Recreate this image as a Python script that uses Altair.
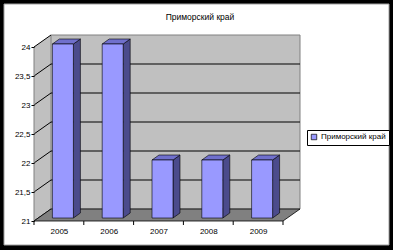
import altair as alt
import pandas as pd

title_text = "Приморский край"
series_name = "Приморский край"
years = ["2005", "2006", "2007", "2008", "2009"]
values = [24, 24, 22, 22, 22]
y_ticks = [21, 21.5, 22, 22.5, 23, 23.5, 24]

# ---- geometry (pixels) ----
X0, X1 = 34, 283          # front plane left / right
Y0, Y1 = 221, 47          # front plane pixel for ymin / ymax
ymin, ymax = y_ticks[0], y_ticks[-1]
n = len(years)
ppx = (X1 - X0) / n
ppy = (Y0 - Y1) / (ymax - ymin)


def dx(px):
    return px / ppx


def dy(px):
    return px / ppy


BX, BY = dx(17), dy(12)         # back wall offset
PX, PY = dx(4), dy(3)           # bar front plane offset
DX, DY = dx(7), dy(5)           # bar depth
BW = dx(21)                     # bar width

FONT = "Liberation Sans"
xs = alt.Scale(domain=[-0.5, n - 0.5], range=[X0, X1], zero=False, nice=False)
ys = alt.Scale(domain=[ymin, ymax], range=[Y0, Y1], zero=False, nice=False)

label_expr = "[" + ",".join(f"'{y}'" for y in years) + "][datum.value]"
ax_x = alt.Axis(values=list(range(n)), labelExpr=label_expr, ticks=False, domain=False,
                grid=False, offset=-(250 - Y0), labelPadding=6, labelFont=FONT,
                labelFontSize=8, labelColor="black", labelFlush=False, zindex=2, title=None)
ax_y = alt.Axis(values=y_ticks, labelExpr="replace(format(datum.value, '~g'), '.', ',')",
                ticks=True, tickSize=3, tickColor="black", domain=False, grid=False,
                offset=-X0, labelPadding=1, labelFont=FONT, labelFontSize=8,
                labelColor="black", labelFlush=False, zindex=2, title=None)


def X(f):
    return alt.X(f, scale=xs, axis=ax_x, title=None)


def Y(f):
    return alt.Y(f, scale=ys, axis=ax_y, title=None)


one = pd.DataFrame({"a": [0]})

bg = alt.Chart(one).mark_rect(fill="white", stroke="#a0a0a0", strokeWidth=1).encode(
    x=alt.value(4), x2=alt.value(389), y=alt.value(4), y2=alt.value(245)
)

side_wall = alt.Chart(pd.DataFrame({
    "x": [-0.5, -0.5 + BX], "lo": [ymin, ymin + BY], "hi": [ymax, ymax + BY]
})).mark_area(fill="#C0C0C0").encode(x=X("x:Q"), y=Y("lo:Q"), y2="hi:Q")

back_wall = alt.Chart(pd.DataFrame({
    "x": [-0.5 + BX], "x2": [n - 0.5 + BX], "y": [ymin + BY], "y2": [ymax + BY]
})).mark_rect(fill="#C0C0C0", stroke="#808080", strokeWidth=1).encode(
    x=X("x:Q"), x2="x2:Q", y=Y("y:Q"), y2="y2:Q")

back_grid = alt.Chart(pd.DataFrame({
    "y": [v + BY for v in y_ticks[1:-1]],
    "x": [-0.5 + BX] * (len(y_ticks) - 2),
    "x2": [n - 0.5 + BX] * (len(y_ticks) - 2),
})).mark_rule(color="black", strokeWidth=1).encode(x=X("x:Q"), x2="x2:Q", y=Y("y:Q"))

side_grid = alt.Chart(pd.DataFrame({
    "x": [-0.5] * len(y_ticks), "x2": [-0.5 + BX] * len(y_ticks),
    "y": y_ticks, "y2": [v + BY for v in y_ticks],
})).mark_rule(color="black", strokeWidth=1).encode(
    x=X("x:Q"), x2="x2:Q", y=Y("y:Q"), y2="y2:Q")

front_edge = alt.Chart(pd.DataFrame({
    "x": [-0.5], "lo": [ymin], "hi": [ymax]
})).mark_rule(color="#808080", strokeWidth=1).encode(x=X("x:Q"), y=Y("lo:Q"), y2="hi:Q")

floor = alt.Chart(pd.DataFrame({
    "y": [ymin, ymin + BY], "xl": [-0.5, -0.5 + BX], "xr": [n - 0.5, n - 0.5 + BX]
})).mark_area(orient="horizontal", fill="#808080", stroke="black", strokeWidth=0.8).encode(
    y=Y("y:Q"), x=X("xl:Q"), x2="xr:Q")

bticks = alt.Chart(pd.DataFrame({
    "x": [i - 0.5 for i in range(n + 1)],
    "y": [ymin] * (n + 1), "y2": [ymin - dy(4)] * (n + 1),
})).mark_rule(color="black", strokeWidth=1).encode(x=X("x:Q"), y=Y("y:Q"), y2="y2:Q")

# bars
front_rows, side_rows, top_rows = [], [], []
for i, (yr, v) in enumerate(zip(years, values)):
    L = i - BW / 2 + PX
    R = L + BW
    base = ymin + PY
    top = v + PY
    front_rows.append({"id": yr, "L": L, "R": R, "base": base, "top": top, "s": series_name})
    side_rows += [
        {"id": yr, "x": R, "lo": base, "hi": top},
        {"id": yr, "x": R + DX, "lo": base + DY, "hi": top + DY},
    ]
    top_rows += [
        {"id": yr, "y": top, "xl": L, "xr": R},
        {"id": yr, "y": top + DY, "xl": L + DX, "xr": R + DX},
    ]

bar_side = alt.Chart(pd.DataFrame(side_rows)).mark_area(
    fill="#4B4B8C", stroke="black", strokeWidth=0.6
).encode(x=X("x:Q"), y=Y("lo:Q"), y2="hi:Q", detail="id:N")

bar_top = alt.Chart(pd.DataFrame(top_rows)).mark_area(
    orient="horizontal", fill="#7070CC", stroke="black", strokeWidth=0.6
).encode(y=Y("y:Q"), x=X("xl:Q"), x2="xr:Q", detail="id:N")

bar_front = alt.Chart(pd.DataFrame(front_rows)).mark_rect(
    stroke="black", strokeWidth=0.6
).encode(
    x=X("L:Q"), x2="R:Q", y=Y("base:Q"), y2="top:Q",
    color=alt.Color("s:N", scale=alt.Scale(domain=[series_name], range=["#9999FF"]),
                    legend=alt.Legend(orient="none", legendX=307, legendY=130, title=None,
                                      strokeColor="black", fillColor="white", padding=3,
                                      symbolType="square", symbolSize=30,
                                      symbolStrokeColor="black", symbolStrokeWidth=0.7,
                                      labelFont=FONT, labelFontSize=8, labelColor="black",
                                      labelOffset=3)),
)

title = alt.Chart(one).mark_text(
    text=title_text, font=FONT, fontSize=8.5, color="black", align="center", baseline="middle"
).encode(x=alt.value(200), y=alt.value(17))

chart = alt.layer(
    bg, side_wall, back_wall, back_grid, side_grid, front_edge, floor, bticks,
    bar_side, bar_top, bar_front, title
).properties(
    width=393, height=250, background="black", padding=0, autosize="none"
).configure_view(stroke=None)

chart.save("out.html", embed_options={"renderer": "svg", "actions": False})
